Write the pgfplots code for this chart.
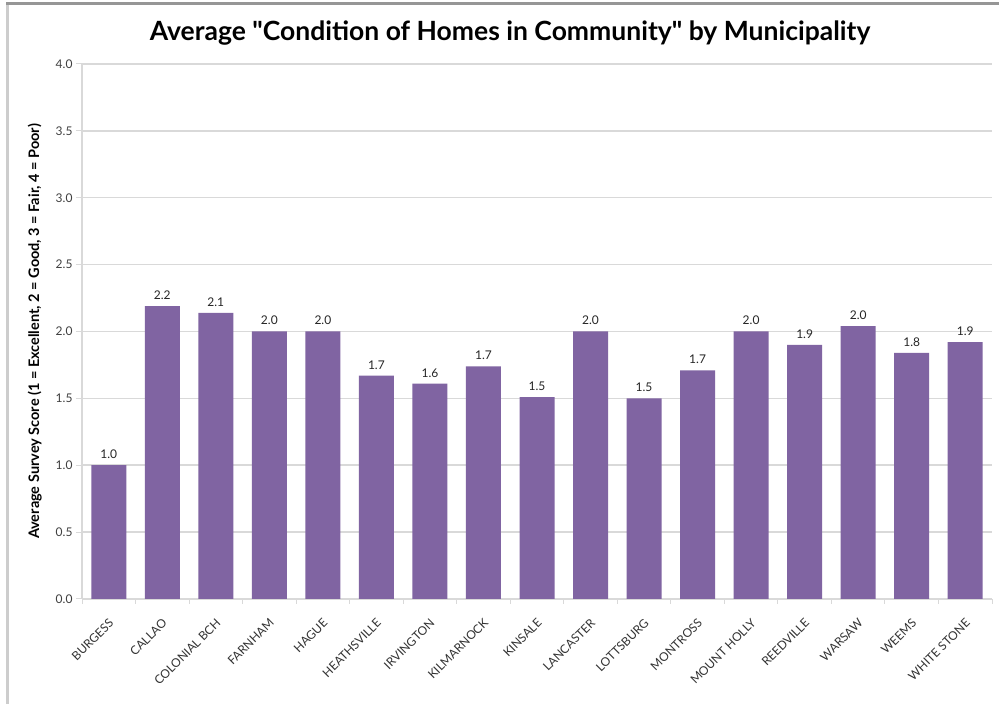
\documentclass[border=0pt]{standalone}
\usepackage{fontspec}
\setmainfont{Lato}
\newfontfamily\titlefont{Lato}[Ligatures=TeXOff]
\usepackage{pgfplots}
\pgfplotsset{compat=1.18}
\definecolor{barpurple}{RGB}{128,100,162}
\definecolor{gridgray}{RGB}{217,217,217}
\definecolor{framegray}{RGB}{150,150,150}
\definecolor{leftgray}{RGB}{205,205,205}
\begin{document}
\begin{tikzpicture}[x=1pt,y=1pt]
\useasboundingbox (0,0) rectangle (999,704);
\fill[white] (0,0) rectangle (999,704);
\draw[leftgray, line width=3pt] (7.5,0) -- (7.5,700);
\draw[framegray, line width=3pt] (6,700) -- (999,700);
\node[font=\titlefont\bfseries\fontsize{26.5}{30}\selectfont] at (510,671) {Average "Condition of Homes in Community" by Municipality};
\begin{axis}[
  at={(82pt,105pt)}, anchor=south west,
  scale only axis, width=910pt, height=535pt,
  ymin=0, ymax=4, ytick={0,0.5,...,4.0},
  xmin=-0.5, xmax=16.5,
  xtick={0,...,16},
  xticklabels={BURGESS,CALLAO,COLONIAL BCH,FARNHAM,HAGUE,HEATHSVILLE,IRVINGTON,KILMARNOCK,KINSALE,LANCASTER,LOTTSBURG,MONTROSS,MOUNT HOLLY,REEDVILLE,WARSAW,WEEMS,WHITE STONE},
  minor xtick={-0.5,0.5,...,16.5},
  x tick label style={rotate=45, anchor=north east, font=\fontsize{12}{14}\selectfont, text=black!80, xshift=-6pt, yshift=-5pt},
  y tick label style={font=\fontsize{12}{14}\selectfont, text=black!75},
  yticklabel={\pgfmathprintnumber[fixed,fixed zerofill,precision=1]{\tick}},
  /pgf/number format/assume math mode=true,
  major x tick style={draw=none},
  minor x tick style={draw=gridgray, line width=1pt},
  y tick style={draw=gridgray, line width=1pt},
  minor tick length=5pt, major tick length=6pt,
  tick align=outside,
  axis x line*=bottom, axis y line*=left,
  axis line style={draw=gridgray, line width=1.2pt},
  ymajorgrids, grid style={draw=gridgray, line width=1.5pt},
  ylabel={\bfseries Average Survey Score (1 = Excellent, 2 = Good, 3 = Fair, 4 = Poor)},
  ylabel style={font=\fontsize{14.5}{16}\selectfont, yshift=7pt},
  nodes near coords,
  nodes near coords style={font=\fontsize{12}{14}\selectfont, text=black!85, yshift=3pt, /pgf/number format/fixed, /pgf/number format/fixed zerofill, /pgf/number format/precision=1, /pgf/number format/assume math mode=true},
]
\addplot[ybar, bar width=35pt, fill=barpurple, draw=none] coordinates {
(0,1.00) (1,2.19) (2,2.14) (3,2.00) (4,2.00) (5,1.67) (6,1.61) (7,1.74) (8,1.51)
(9,2.00) (10,1.50) (11,1.71) (12,2.00) (13,1.90) (14,2.04) (15,1.84) (16,1.92)};
\end{axis}
\end{tikzpicture}
\end{document}
